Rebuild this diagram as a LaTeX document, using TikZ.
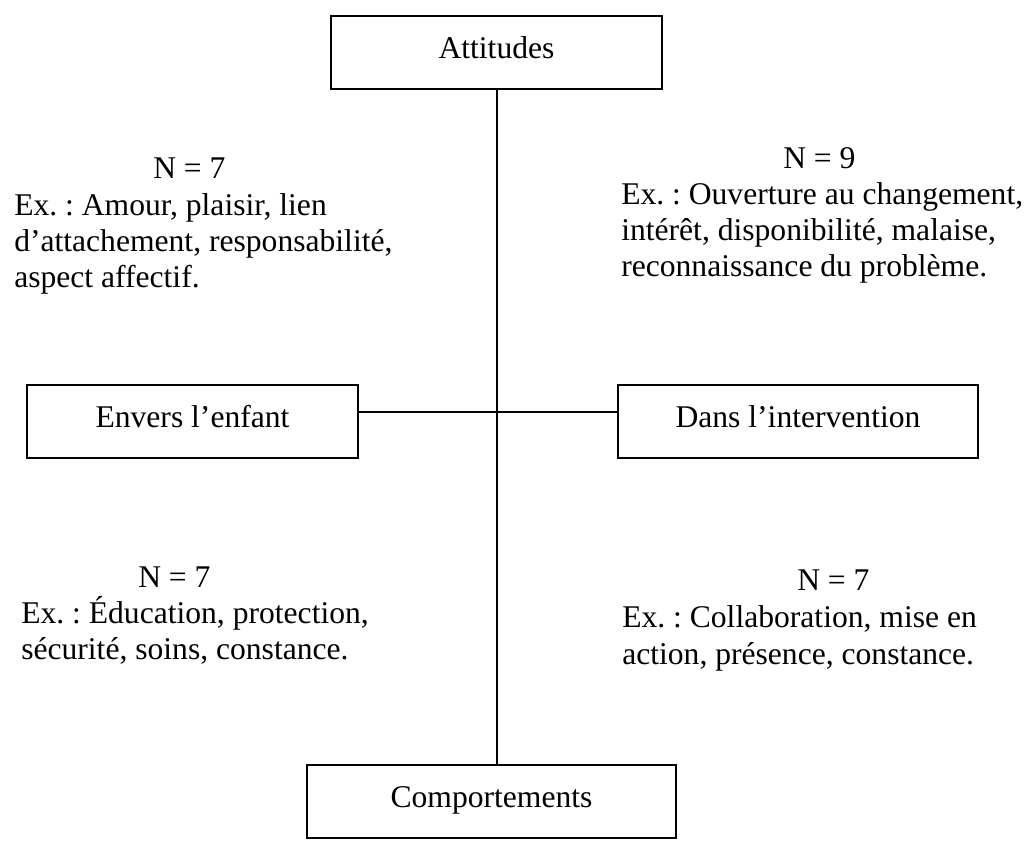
\documentclass[tikz,border=0pt]{standalone}
\usepackage{fontspec}
\setmainfont{Liberation Serif}
\frenchspacing
\begin{document}
\begin{tikzpicture}[x=0.75pt,y=-0.75pt,
  every node/.style={font=\fontsize{23.7pt}{27pt}\selectfont},
  box/.style={draw=black, line width=1.1pt, inner xsep=0pt, inner ysep=0pt,
    text height=31.5pt, text depth=23.25pt, align=center},
  txt/.style={anchor=base west, inner sep=0pt},
  trunk/.style={draw=black, line width=1.5pt},
  branch/.style={draw=black, line width=1pt}]
\useasboundingbox (0,0) rectangle (1029,840);

% boxes
\node[box, minimum width=248.25pt] (att)  at (496.5,52.5)  {Attitudes};
\node[box, minimum width=248.25pt] (env)  at (192.5,421.5) {Envers l’enfant};
\node[box, minimum width=270pt]    (dans) at (798,421.5)   {Dans l’intervention};
\node[box, minimum width=276.75pt] (comp) at (491.5,801.5) {Comportements};

% connectors
\coordinate (hy) at (496,412);
\draw[trunk] (att.south) -- (att.south |- comp.north);
\draw[branch] (env.east |- hy) -- (dans.west |- hy);

% top left
\node[txt] (ltn) at (153,178) {N = 7};
\node[txt] (lt1) at (14,215) {Ex. : Amour, plaisir, lien};
\node[txt] (lt2) at (14,251) {d’attachement, responsabilité,};
\node[txt] (lt3) at (14,287) {aspect affectif.};

% top right
\node[txt] (rtn) at (783,168) {N = 9};
\node[txt] (rt1) at (621,204) {Ex. : Ouverture au changement,};
\node[txt] (rt2) at (621,240) {intérêt, disponibilité, malaise,};
\node[txt] (rt3) at (621,276) {reconnaissance du problème.};

% bottom left
\node[txt] (lbn) at (138,587) {N = 7};
\node[txt] (lb1) at (21,623) {Ex. : Éducation, protection,};
\node[txt] (lb2) at (21,659) {sécurité, soins, constance.};

% bottom right
\node[txt] (rbn) at (797,590) {N = 7};
\node[txt] (rb1) at (622,627) {Ex. : Collaboration, mise en};
\node[txt] (rb2) at (622,664) {action, présence, constance.};
\end{tikzpicture}
\end{document}
